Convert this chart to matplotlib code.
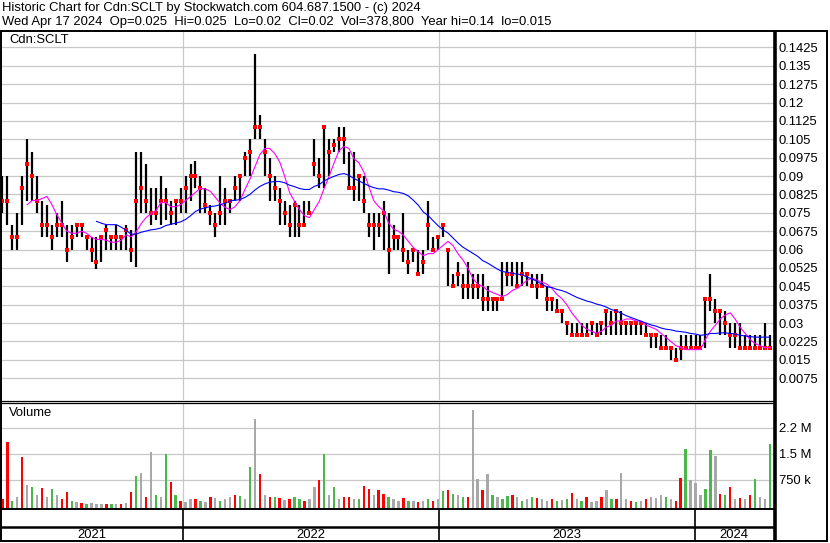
import matplotlib.pyplot as plt
import pandas as pd

plt.rcParams['font.family'] = ['Liberation Sans', 'DejaVu Sans']

# weekly bars (Apr 2021 - Apr 2024)
high = [
    .09, .09, .07, .075, .09, .105, .1, .09, .08, .078,
    .07, .075, .08, .07, .07, .07, .07, .065, .065, .065,
    .065, .07, .065, .07, .065, .07, .068, .1, .1, .095,
    .085, .085, .09, .085, .08, .08, .085, .09, .095, .096,
    .09, .085, .078, .075, .09, .085, .08, .09, .09, .1,
    .105, .14, .115, .105, .0975, .09, .085, .08, .078, .08,
    .078, .08, .08, .105, .0975, .11, .105, .105, .11, .11,
    .1, .1, .09, .09, .075, .075, .075, .08, .075, .07,
    .065, .075, .06, .06, .06, .06, .08, .065, .065, .07,
    .06, .05, .055, .05, .055, .05, .05, .05, .045, .04,
    .04, .055, .055, .055, .055, .055, .05, .05, .05, .05,
    .045, .04, .04, .035, .03, .03, .03, .03, .03, .03,
    .03, .03, .035, .035, .035, .035, .03, .03, .03, .03,
    .03, .025, .025, .025, .025, .02, .02, .025, .025, .025,
    .025, .025, .04, .05, .04, .035, .035, .03, .03, .03,
    .025, .025, .025, .025, .03, .025]
low = [
    .075, .07, .06, .06, .07, .08, .08, .075, .065, .065,
    .06, .065, .065, .055, .06, .065, .065, .06, .055, .052,
    .055, .06, .06, .06, .06, .06, .055, .053, .075, .075,
    .07, .072, .07, .072, .07, .07, .075, .075, .08, .085,
    .075, .075, .07, .065, .07, .07, .075, .08, .08, .09,
    .09, .105, .105, .09, .08, .08, .07, .07, .065, .065,
    .065, .07, .075, .09, .085, .085, .09, .1, .1, .095,
    .085, .08, .08, .075, .065, .06, .065, .06, .05, .06,
    .06, .055, .05, .055, .05, .05, .06, .06, .06, .065,
    .045, .045, .045, .04, .04, .04, .04, .035, .035, .035,
    .035, .04, .045, .045, .045, .045, .045, .045, .04, .045,
    .035, .035, .035, .03, .025, .025, .025, .025, .025, .025,
    .025, .025, .025, .025, .025, .025, .025, .025, .025, .025,
    .025, .02, .02, .02, .02, .015, .015, .015, .02, .02,
    .02, .02, .02, .035, .03, .025, .025, .02, .02, .02,
    .02, .02, .02, .02, .02, .02]
close = [
    .08, .08, .065, .065, .085, .095, .09, .08, .07, .07,
    .065, .07, .07, .06, .065, .07, .07, .065, .06, .055,
    .065, .068, .065, .065, .065, .068, .06, .08, .085, .08,
    .075, .075, .08, .08, .075, .08, .08, .085, .09, .09,
    .085, .078, .075, .07, .075, .08, .08, .085, .09, .0975,
    .1, .11, .11, .1, .09, .085, .08, .075, .07, .078,
    .07, .07, .075, .095, .09, .11, .1, .1025, .105, .105,
    .085, .085, .09, .08, .07, .07, .07, .075, .06, .065,
    .065, .06, .055, .06, .05, .055, .07, .06, .065, .07,
    .06, .045, .05, .045, .045, .045, .045, .04, .04, .04,
    .04, .04, .05, .05, .045, .05, .05, .045, .045, .045,
    .04, .04, .035, .035, .03, .025, .025, .025, .025, .03,
    .025, .03, .035, .03, .035, .03, .03, .03, .03, .03,
    .025, .025, .025, .02, .02, .02, .015, .02, .02, .02,
    .02, .02, .04, .04, .035, .035, .03, .025, .025, .02,
    .02, .02, .02, .02, .02, .02]
# volume in thousands, colour: r = down, g = up, k = unchanged
volume_k = [
    200, 1830, 150, 250, 1420, 600, 550, 300, 530, 250,
    500, 300, 200, 400, 150, 120, 80, 60, 70, 50,
    40, 60, 40, 50, 60, 80, 400, 870, 960, 250,
    1550, 300, 250, 1500, 700, 300, 150, 120, 200, 200,
    150, 120, 250, 230, 150, 200, 250, 300, 280, 200,
    1130, 2500, 920, 300, 250, 250, 220, 180, 200, 250,
    200, 150, 200, 550, 750, 1500, 300, 550, 200, 250,
    250, 200, 200, 580, 480, 300, 460, 350, 250, 200,
    150, 240, 150, 150, 120, 150, 200, 150, 200, 430,
    460, 350, 300, 250, 250, 2770, 780, 460, 920, 300,
    250, 200, 280, 320, 250, 150, 200, 250, 240, 200,
    150, 200, 150, 180, 200, 370, 200, 150, 250, 120,
    150, 250, 460, 200, 200, 960, 200, 150, 120, 150,
    200, 250, 240, 300, 250, 200, 150, 800, 1640, 750,
    650, 300, 500, 1600, 1440, 350, 300, 540, 200, 220,
    200, 300, 780, 250, 200, 1790]
vol_dir = ("rrgkrkgkrk" "gkrrgkrgkk" "krgkrkrgkr" "kgkgrgrkkr" "gkrkgkkrgk"
           "gkrkrgrkrg" "grkkrgkgkr" "rkgrrkrrgk" "krgkrkgrkg" "rgkgrkkrkg"
           "kggrkgkgrk" "krgkgrkgrk" "krkgrkkrgk" "rkkkgkrrgk" "kkggkrgrkr"
           "krgkkg")
price_ticks = [.0075, .015, .0225, .03, .0375, .045, .0525, .06, .0675, .075,
               .0825, .09, .0975, .105, .1125, .12, .1275, .135, .1425]
price_labels = ['0.0075', '0.015', '0.0225', '0.03', '0.0375', '0.045', '0.0525',
                '0.06', '0.0675', '0.075', '0.0825', '0.09', '0.0975', '0.105',
                '0.1125', '0.12', '0.1275', '0.135', '0.1425']
vol_ticks = [0.75, 1.5, 2.25]
vol_labels = ['750 k', '1.5 M', '2.2 M']
years = ['2021', '2022', '2023', '2024']

W, H = 830, 543
fig = plt.figure(figsize=(W / 100, H / 100), dpi=100)


def box(x0, y0, x1, y1):
    return fig.add_axes([x0 / W, 1 - y1 / H, (x1 - x0) / W, (y1 - y0) / H])


dates = pd.date_range('2021-04-19', '2024-04-17', periods=len(close))
x_start, x_end = pd.Timestamp('2021-04-17'), pd.Timestamp('2024-04-23')
year_starts = [pd.Timestamp(y + '-01-01') for y in years[1:]]
grid = '#c8c8c8'
fs = 9.4

# price panel
ax = box(1, 31, 774, 400)
ax.set_xlim(x_start, x_end)
ax.set_ylim(-0.0014, 0.1492)
for t in price_ticks:
    ax.axhline(t, color=grid, lw=0.9, zorder=0)
for d in year_starts:
    ax.axvline(d, color=grid, lw=0.9, zorder=0)
ax.vlines(dates, low, high, color='black', lw=1.6, zorder=2)
ax.plot(dates, close, 's', color='red', ms=2.4, mew=0, zorder=3)
s = pd.Series(close)
ax.plot(dates, s.rolling(6).mean(), color='#ff00ff', lw=0.8, zorder=4)
ax.plot(dates, s.rolling(20).mean(), color='#0000ff', lw=0.8, zorder=4)
ax.yaxis.tick_right()
ax.set_yticks(price_ticks, price_labels, fontsize=fs)
ax.tick_params(axis='y', length=0, pad=3.5)
ax.set_xticks([])
for sp in ax.spines.values():
    sp.set_visible(False)

# volume panel
av = box(1, 403, 774, 509)
av.set_xlim(x_start, x_end)
base = -0.09
av.set_ylim(base, 2.97)
for t in vol_ticks:
    av.axhline(t, color=grid, lw=0.9, zorder=0)
for d in year_starts:
    av.axvline(d, color=grid, lw=0.9, zorder=0)
cmap = {'r': '#ff0000', 'g': '#4cb84c', 'k': '#a8a8a8'}
vols = [v / 1000 for v in volume_k]
av.bar(dates, [v - base for v in vols], bottom=base, width=3.4,
       color=[cmap[c] for c in vol_dir], zorder=2)
av.yaxis.tick_right()
av.set_yticks(vol_ticks, vol_labels, fontsize=fs)
av.tick_params(axis='y', length=0, pad=3.5)
av.set_xticks([])
for sp in av.spines.values():
    sp.set_visible(False)

# year strip
ay = box(1, 509, 774, 541)
ay.set_xlim(x_start, x_end)
ay.set_ylim(0, 32)
ay.axis('off')
for d in year_starts:
    ay.axvline(d, color='black', lw=1.2)
ay.axhline(14, color='black', lw=1.8)
edges = [x_start] + year_starts + [x_end]
for i, y in enumerate(years):
    mid = edges[i] + (edges[i + 1] - edges[i]) / 2
    ay.text(mid, 6, y, ha='center', va='center', fontsize=fs)

# frame and header text in pixel space
fr = fig.add_axes([0, 0, 1, 1], facecolor='none')
fr.set_xlim(0, W)
fr.set_ylim(H, 0)
fr.axis('off')
k = dict(color='black', solid_capstyle='butt')
fr.plot([0, 828], [31, 31], lw=1.4, **k)
fr.plot([0.7, 0.7], [31, 541], lw=1.4, **k)
fr.plot([775, 775], [31, 541], lw=2.6, **k)
fr.plot([827, 827], [31, 541], lw=1.4, **k)
fr.plot([0, 828], [541, 541], lw=1.4, **k)
fr.plot([0, 774], [400.5, 400.5], lw=0.9, **k)
fr.plot([0, 774], [403, 403], lw=0.9, **k)
fr.plot([0, 774], [509, 509], lw=1.4, **k)
fr.text(2, 8, 'Historic Chart for Cdn:SCLT by Stockwatch.com 604.687.1500 - (c) 2024',
        fontsize=fs, va='center')
fr.text(2, 22, 'Wed Apr 17 2024  Op=0.025  Hi=0.025  Lo=0.02  Cl=0.02  '
        'Vol=378,800  Year hi=0.14  lo=0.015', fontsize=fs, va='center')
fr.text(9, 40, 'Cdn:SCLT', fontsize=fs, va='center')
fr.text(9, 413, 'Volume', fontsize=fs, va='center')

fig.savefig('out.png', dpi=100)
